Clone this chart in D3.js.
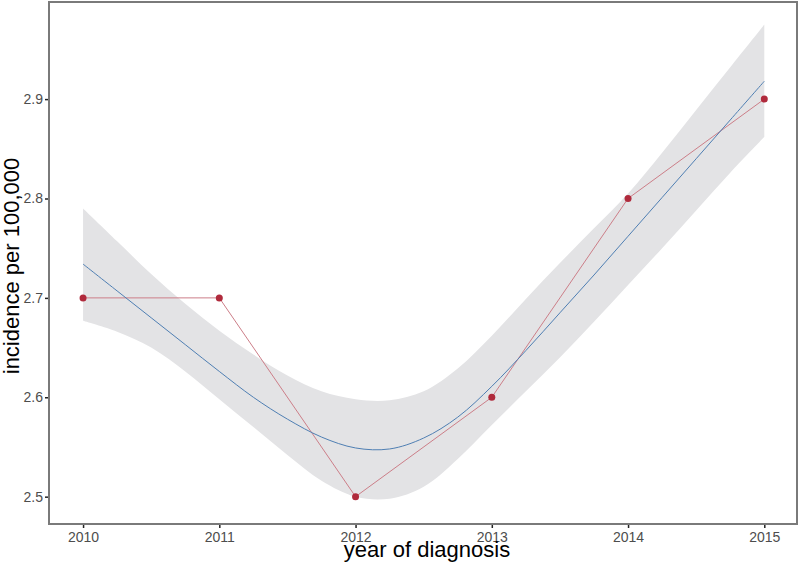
<!DOCTYPE html>
<html>
<head>
<meta charset="utf-8">
<script src="https://cdn.jsdelivr.net/npm/d3@7"></script>
<style>
  body { margin: 0; background: #fff; }
  svg { display: block; }
</style>
</head>
<body>
<svg id="chart" width="800" height="563"></svg>
<script>
// Observed data
const years = [2010, 2011, 2012, 2013, 2014, 2015];
const incidence = [2.7, 2.7, 2.5, 2.6, 2.8, 2.9];

// Smoothed fit with its confidence band, quarter-year steps
const smoothX = [2010, 2010.25, 2010.5, 2010.75, 2011, 2011.25, 2011.5, 2011.75, 2012, 2012.25, 2012.5, 2012.75, 2013, 2013.25, 2013.5, 2013.75, 2014, 2014.25, 2014.5, 2014.75, 2015];
const smoothY = [2.734, 2.707, 2.680, 2.653, 2.626, 2.600, 2.578, 2.560, 2.549, 2.548, 2.559, 2.580, 2.611, 2.647, 2.685, 2.723, 2.762, 2.801, 2.840, 2.879, 2.918];
const smoothUpper = [2.790, 2.757, 2.724, 2.694, 2.667, 2.643, 2.622, 2.606, 2.598, 2.597, 2.606, 2.629, 2.662, 2.699, 2.735, 2.770, 2.805, 2.846, 2.889, 2.932, 2.975];
const smoothLower = [2.677, 2.666, 2.650, 2.626, 2.598, 2.570, 2.542, 2.516, 2.500, 2.498, 2.510, 2.538, 2.572, 2.606, 2.640, 2.676, 2.713, 2.750, 2.788, 2.826, 2.862];

const xTicks = [2010, 2011, 2012, 2013, 2014, 2015];
const yTicks = [2.5, 2.6, 2.7, 2.8, 2.9];

const svg = d3.select("#chart");
const panel = { left: 49, right: 797, top: 2, bottom: 524 };
const font = "Liberation Sans, Arial, Helvetica, sans-serif";

const x = d3.scaleLinear().domain([2009.75, 2015.24]).range([panel.left, panel.right]);
const y = d3.scaleLinear().domain([2.4725, 2.9977]).range([panel.bottom, panel.top]);

const smooth = smoothX.map((d, i) => ({ x: d, y: smoothY[i], hi: smoothUpper[i], lo: smoothLower[i] }));
const pts = years.map((d, i) => ({ x: d, y: incidence[i] }));

// confidence band
svg.append("path")
  .datum(smooth)
  .attr("fill", "#e3e3e5")
  .attr("d", d3.area().curve(d3.curveCatmullRom).x(d => x(d.x)).y0(d => y(d.lo)).y1(d => y(d.hi)));

// observed line
svg.append("path")
  .datum(pts)
  .attr("fill", "none")
  .attr("stroke", "#cc7e88")
  .attr("stroke-width", 1)
  .attr("d", d3.line().x(d => x(d.x)).y(d => y(d.y)));

// smooth line
svg.append("path")
  .datum(smooth)
  .attr("fill", "none")
  .attr("stroke", "#4f7fb3")
  .attr("stroke-width", 1)
  .attr("d", d3.line().curve(d3.curveCatmullRom).x(d => x(d.x)).y(d => y(d.y)));

// points
svg.append("g").selectAll("circle")
  .data(pts)
  .join("circle")
  .attr("cx", d => x(d.x))
  .attr("cy", d => y(d.y))
  .attr("r", 3.5)
  .attr("fill", "#b02a3c");

// panel border
svg.append("rect")
  .attr("x", panel.left)
  .attr("y", panel.top)
  .attr("width", panel.right - panel.left)
  .attr("height", panel.bottom - panel.top)
  .attr("fill", "none")
  .attr("stroke", "#7a7a7a")
  .attr("stroke-width", 2);

// axes
const xAxis = d3.axisBottom(x).tickValues(xTicks).tickFormat(d3.format("d")).tickSize(3).tickPadding(4);
const yAxis = d3.axisLeft(y).tickValues(yTicks).tickFormat(d3.format(".1f")).tickSize(3).tickPadding(2);

const gx = svg.append("g").attr("transform", `translate(0,${panel.bottom + 1})`).call(xAxis);
const gy = svg.append("g").attr("transform", `translate(${panel.left - 1},0)`).call(yAxis);
[gx, gy].forEach(g => {
  g.select(".domain").remove();
  g.selectAll(".tick line").attr("stroke", "#222").attr("stroke-width", 1.5);
  g.selectAll(".tick text")
    .attr("fill", "#4d4d4d")
    .style("font-family", font)
    .style("font-size", "14px");
});

// axis titles
svg.append("text")
  .attr("x", 427)
  .attr("y", 557)
  .attr("text-anchor", "middle")
  .style("font-family", font)
  .style("font-size", "22px")
  .attr("fill", "#000")
  .text("year of diagnosis");

svg.append("text")
  .attr("transform", `translate(19,266) rotate(-90)`)
  .attr("text-anchor", "middle")
  .style("font-family", font)
  .style("font-size", "22px")
  .attr("fill", "#000")
  .text("incidence per 100,000");
</script>
</body>
</html>
